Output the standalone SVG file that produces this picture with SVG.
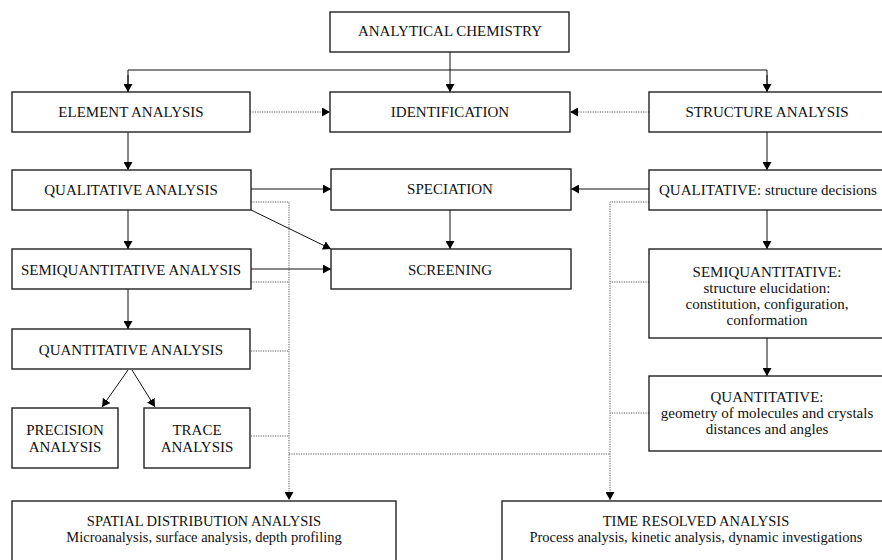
<svg xmlns="http://www.w3.org/2000/svg" width="882" height="560" viewBox="0 0 882 560">
<style>
.box{fill:#fff;stroke:#222;stroke-width:1.4}
text{font-family:'Liberation Serif','DejaVu Serif',serif;font-size:15px;fill:#111;text-anchor:middle}
.s{font-size:14.5px}
.ln{fill:none;stroke:#111;stroke-width:1}
.dot{fill:none;stroke:#444;stroke-width:0.9;stroke-dasharray:1.2 1.2}
</style>
<defs>
<marker id="ah" viewBox="0 0 8 9" refX="8" refY="4.5" markerWidth="8" markerHeight="9" markerUnits="userSpaceOnUse" orient="auto">
<path d="M0,0 L8,4.5 L0,9 z" fill="#000"/>
</marker>
</defs>
<rect width="882" height="560" fill="#fff"/>

<g id="connectors">
<line class="ln" x1="450" y1="52" x2="450" y2="92" marker-end="url(#ah)"/>
<polyline class="ln" points="128,92 128,70 767,70 767,92"/>
<line class="ln" x1="128" y1="75" x2="128" y2="92" marker-end="url(#ah)"/>
<line class="ln" x1="767" y1="75" x2="767" y2="92" marker-end="url(#ah)"/>
<line class="dot" x1="250" y1="112" x2="330" y2="112" marker-end="url(#ah)"/>
<line class="dot" x1="649" y1="112" x2="570" y2="112" marker-end="url(#ah)"/>
<line class="ln" x1="128" y1="132" x2="128" y2="170" marker-end="url(#ah)"/>
<line class="ln" x1="767" y1="132" x2="767" y2="170" marker-end="url(#ah)"/>
<line class="ln" x1="251" y1="189" x2="331" y2="189" marker-end="url(#ah)"/>
<line class="ln" x1="649" y1="189" x2="571" y2="189" marker-end="url(#ah)"/>
<line class="ln" x1="251" y1="210" x2="331" y2="249" marker-end="url(#ah)"/>
<line class="ln" x1="450" y1="210" x2="450" y2="249" marker-end="url(#ah)"/>
<line class="ln" x1="128" y1="210" x2="128" y2="249" marker-end="url(#ah)"/>
<line class="ln" x1="251" y1="269" x2="331" y2="269" marker-end="url(#ah)"/>
<line class="ln" x1="128" y1="289" x2="128" y2="329" marker-end="url(#ah)"/>
<line class="ln" x1="128" y1="370" x2="102" y2="407" marker-end="url(#ah)"/>
<line class="ln" x1="132" y1="370" x2="155" y2="407" marker-end="url(#ah)"/>
<line class="ln" x1="767" y1="210" x2="767" y2="249" marker-end="url(#ah)"/>
<line class="ln" x1="767" y1="338" x2="767" y2="376" marker-end="url(#ah)"/>
<polyline class="dot" points="251,202 289,202 289,500" marker-end="url(#ah)"/>
<line class="dot" x1="251" y1="282" x2="289" y2="282"/>
<line class="dot" x1="251" y1="351" x2="289" y2="351"/>
<line class="dot" x1="251" y1="436" x2="289" y2="436"/>
<line class="dot" x1="289" y1="454" x2="610" y2="454"/>
<polyline class="dot" points="649,202 610,202 610,500" marker-end="url(#ah)"/>
<line class="dot" x1="649" y1="282" x2="610" y2="282"/>
<line class="dot" x1="649" y1="413" x2="610" y2="413"/>
</g>

<g id="analytical-chemistry"><rect class="box" x="330" y="12" width="239" height="40"/><text font-family="Liberation Serif" x="450" y="36">ANALYTICAL CHEMISTRY</text></g>
<g id="element-analysis"><rect class="box" x="12" y="92" width="238" height="40"/><text font-family="Liberation Serif" x="131" y="117">ELEMENT ANALYSIS</text></g>
<g id="identification"><rect class="box" x="330" y="92" width="240" height="40"/><text font-family="Liberation Serif" x="450" y="117">IDENTIFICATION</text></g>
<g id="structure-analysis"><rect class="box" x="649" y="92" width="240" height="40"/><text font-family="Liberation Serif" x="767" y="117">STRUCTURE ANALYSIS</text></g>
<g id="qualitative-analysis"><rect class="box" x="12" y="170" width="239" height="40"/><text font-family="Liberation Serif" x="131" y="195">QUALITATIVE ANALYSIS</text></g>
<g id="speciation"><rect class="box" x="331" y="169" width="240" height="41"/><text font-family="Liberation Serif" x="450" y="194">SPECIATION</text></g>
<g id="qualitative-structure"><rect class="box" x="649" y="170" width="240" height="40"/><text font-family="Liberation Serif" x="768" y="195">QUALITATIVE: structure decisions</text></g>
<g id="semiquantitative-analysis"><rect class="box" x="12" y="249" width="239" height="40"/><text font-family="Liberation Serif" x="131" y="275">SEMIQUANTITATIVE ANALYSIS</text></g>
<g id="screening"><rect class="box" x="331" y="249" width="240" height="40"/><text font-family="Liberation Serif" x="450" y="275">SCREENING</text></g>
<g id="semiquantitative-structure"><rect class="box" x="649" y="249" width="240" height="89"/>
<text font-family="Liberation Serif" x="767" y="277">SEMIQUANTITATIVE:</text>
<text font-family="Liberation Serif" x="767" y="293">structure elucidation:</text>
<text font-family="Liberation Serif" x="767" y="309">constitution, configuration,</text>
<text font-family="Liberation Serif" x="767" y="325">conformation</text></g>
<g id="quantitative-analysis"><rect class="box" x="12" y="329" width="238" height="40"/><text font-family="Liberation Serif" x="131" y="355">QUANTITATIVE ANALYSIS</text></g>
<g id="precision-analysis"><rect class="box" x="12" y="408" width="106" height="60"/><text font-family="Liberation Serif" x="65" y="435">PRECISION</text><text font-family="Liberation Serif" x="65" y="452">ANALYSIS</text></g>
<g id="trace-analysis"><rect class="box" x="144" y="408" width="106" height="60"/><text font-family="Liberation Serif" x="197" y="435">TRACE</text><text font-family="Liberation Serif" x="197" y="452">ANALYSIS</text></g>
<g id="quantitative-structure"><rect class="box" x="649" y="376" width="240" height="75"/>
<text font-family="Liberation Serif" x="767" y="402">QUANTITATIVE:</text>
<text font-family="Liberation Serif" x="767" y="418">geometry of molecules and crystals</text>
<text font-family="Liberation Serif" x="767" y="434">distances and angles</text></g>
<g id="spatial-distribution"><rect class="box" x="12" y="501" width="384" height="70"/>
<text font-family="Liberation Serif" class="s" x="204" y="526">SPATIAL DISTRIBUTION ANALYSIS</text>
<text font-family="Liberation Serif" class="s" x="204" y="542">Microanalysis, surface analysis, depth profiling</text></g>
<g id="time-resolved"><rect class="box" x="502" y="501" width="390" height="70"/>
<text font-family="Liberation Serif" class="s" x="696" y="526">TIME RESOLVED ANALYSIS</text>
<text font-family="Liberation Serif" class="s" x="696" y="542">Process analysis, kinetic analysis, dynamic investigations</text></g>
</svg>
